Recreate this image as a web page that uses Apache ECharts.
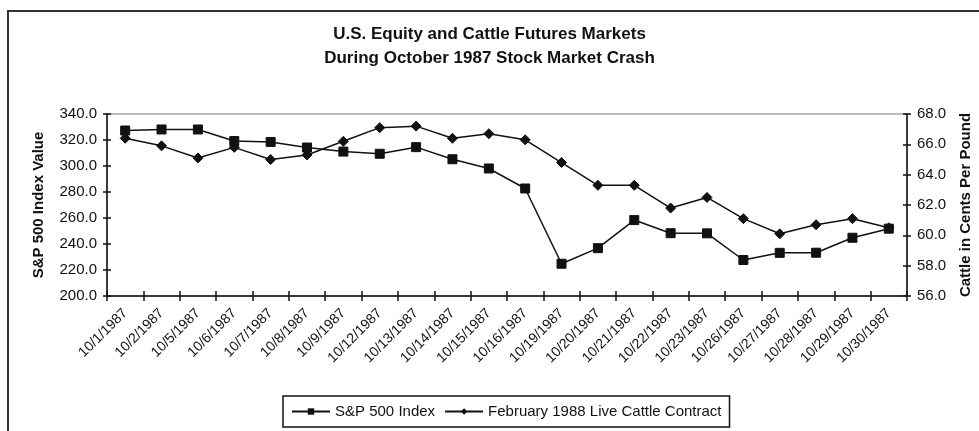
<!DOCTYPE html>
<html>
<head>
<meta charset="utf-8">
<script src="https://cdn.jsdelivr.net/npm/echarts@6/dist/echarts.min.js"></script>
<style>
	html, body { margin: 0; padding: 0; background: #fff; }
	#main { width: 979px; height: 431px; }
</style>
</head>
<body>
<div id="main"></div>
<script>
// trading days, Oct 1987
const dates = ['10/1/1987', '10/2/1987', '10/5/1987', '10/6/1987', '10/7/1987', '10/8/1987', '10/9/1987',
	'10/12/1987', '10/13/1987', '10/14/1987', '10/15/1987', '10/16/1987', '10/19/1987', '10/20/1987',
	'10/21/1987', '10/22/1987', '10/23/1987', '10/26/1987', '10/27/1987', '10/28/1987', '10/29/1987', '10/30/1987'];

const sp500 = [327.3, 328.1, 328.1, 319.2, 318.5, 314.2, 311.1, 309.4, 314.5, 305.2, 298.1,
	282.7, 224.8, 236.8, 258.4, 248.3, 248.2, 227.7, 233.2, 233.3, 244.8, 251.8];

const cattle = [66.4, 65.9, 65.1, 65.8, 65.0, 65.3, 66.2, 67.1, 67.2, 66.4, 66.7,
	66.3, 64.8, 63.3, 63.3, 61.8, 62.5, 61.1, 60.1, 60.7, 61.1, 60.5];

const FONT = '"Liberation Sans", Arial, sans-serif';
const INK = '#111';

const myChart = echarts.init(document.getElementById('main'), null, { renderer: 'canvas' });

// second copy of each axis only draws the inner half of the cross ticks
const yLeft = { min: 200, max: 340, interval: 20 };
const yRight = { min: 56, max: 68, interval: 2 };

const option = {
	animation: false,
	backgroundColor: '#fff',
	title: {
		text: 'U.S. Equity and Cattle Futures Markets\nDuring October 1987 Stock Market Crash',
		left: 'center',
		top: 17,
		textStyle: { fontFamily: FONT, fontSize: 17, fontWeight: 'bold', color: INK, lineHeight: 24 }
	},
	graphic: [{
		type: 'rect',
		shape: { x: 8, y: 11, width: 1100, height: 600 },
		style: { fill: 'none', stroke: '#333', lineWidth: 2 },
		silent: true
	}],
	grid: {
		left: 107, right: 72, top: 114, bottom: 135,
		outerBoundsMode: 'none',
		show: true, borderColor: '#777', borderWidth: 1
	},
	legend: {
		left: 283, top: 396,
		padding: [8, 8],
		itemGap: 9,
		itemWidth: 38, itemHeight: 8,
		borderColor: INK, borderWidth: 1.5,
		textStyle: { fontFamily: FONT, fontSize: 15, color: INK },
		data: ['S&P 500 Index', 'February 1988 Live Cattle Contract']
	},
	xAxis: [{
		type: 'category',
		data: dates,
		boundaryGap: true,
		axisLine: { lineStyle: { color: INK, width: 1.5 } },
		axisTick: { show: true, interval: 0, length: 5, lineStyle: { color: INK, width: 1.5 } },
		axisLabel: { rotate: 45, margin: 15, interval: 0, fontFamily: FONT, fontSize: 14, color: INK }
	}, {
		type: 'category',
		data: dates,
		position: 'bottom',
		boundaryGap: true,
		axisLine: { show: false },
		axisTick: { show: true, interval: 0, inside: true, length: 5, lineStyle: { color: INK, width: 1.5 } },
		axisLabel: { show: false }
	}],
	yAxis: [{
		type: 'value', position: 'left', ...yLeft,
		name: 'S&P 500 Index Value',
		nameLocation: 'middle', nameGap: 61,
		nameTextStyle: { fontFamily: FONT, fontSize: 15, fontWeight: 'bold', color: INK },
		splitLine: { show: false },
		axisLine: { show: true, lineStyle: { color: INK, width: 1.5 } },
		axisTick: { show: true, length: 4, lineStyle: { color: INK, width: 1.5 } },
		axisLabel: { margin: 10, fontFamily: FONT, fontSize: 15, color: INK, formatter: v => v.toFixed(1) }
	}, {
		type: 'value', position: 'right', ...yRight,
		name: 'Cattle in Cents Per Pound',
		nameLocation: 'middle', nameGap: 51,
		nameRotate: 90,
		nameTextStyle: { fontFamily: FONT, fontSize: 15, fontWeight: 'bold', color: INK },
		splitLine: { show: false },
		axisLine: { show: true, lineStyle: { color: INK, width: 1.5 } },
		axisTick: { show: true, length: 4, lineStyle: { color: INK, width: 1.5 } },
		axisLabel: { margin: 10, fontFamily: FONT, fontSize: 15, color: INK, formatter: v => v.toFixed(1) }
	}, {
		type: 'value', position: 'left', ...yLeft,
		splitLine: { show: false }, axisLine: { show: false }, axisLabel: { show: false },
		axisTick: { show: true, inside: true, length: 4, lineStyle: { color: INK, width: 1.5 } }
	}, {
		type: 'value', position: 'right', ...yRight,
		splitLine: { show: false }, axisLine: { show: false }, axisLabel: { show: false },
		axisTick: { show: true, inside: true, length: 4, lineStyle: { color: INK, width: 1.5 } }
	}],
	series: [{
		name: 'S&P 500 Index',
		type: 'line',
		data: sp500,
		yAxisIndex: 0,
		symbol: 'rect',
		symbolSize: 9,
		lineStyle: { color: INK, width: 1.5 },
		itemStyle: { color: INK, borderColor: INK }
	}, {
		name: 'February 1988 Live Cattle Contract',
		type: 'line',
		data: cattle,
		yAxisIndex: 1,
		symbol: 'diamond',
		symbolSize: 10,
		lineStyle: { color: INK, width: 1.5 },
		itemStyle: { color: INK, borderColor: INK }
	}]
};

myChart.setOption(option);
</script>
</body>
</html>
